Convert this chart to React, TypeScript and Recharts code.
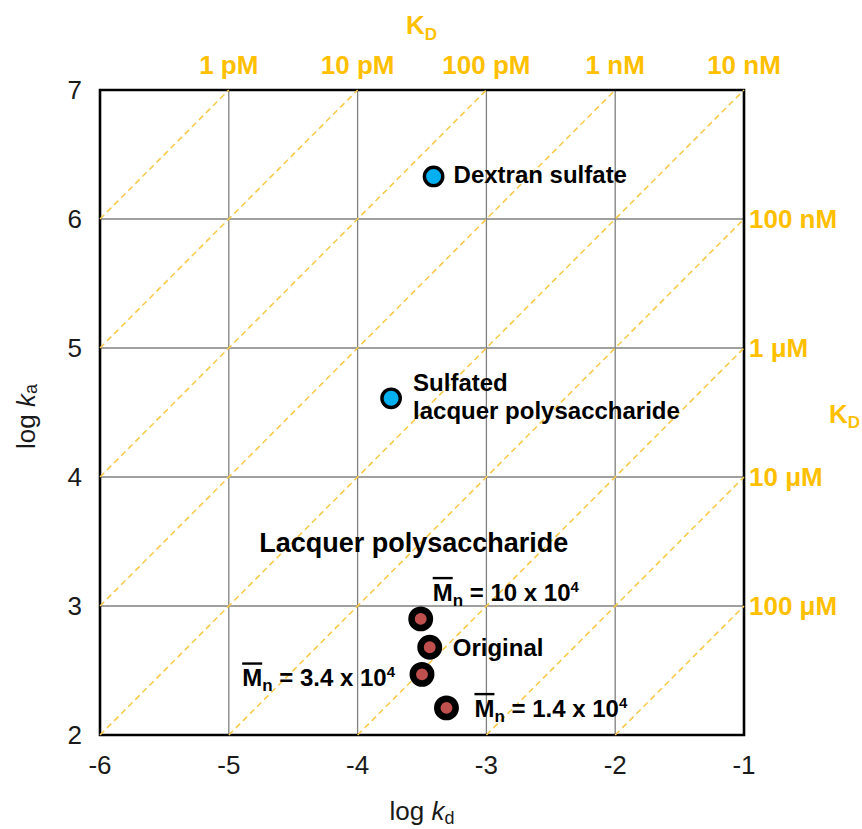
import React from 'react';
import {
  ScatterChart,
  Scatter,
  XAxis,
  YAxis,
  CartesianGrid,
  ReferenceLine,
  ReferenceArea,
  ReferenceDot,
  Label,
} from 'recharts';

const FONT = '"Liberation Sans", Arial, Helvetica, sans-serif';
const KD_COLOR = '#FFC000';
const ISO_COLOR = '#F7CB4D';
const TEXT_COLOR = '#1a1a1a';

// axis ticks (log10 of rate constants)
const logKdTicks = [-6, -5, -4, -3, -2, -1];
const logKaTicks = [2, 3, 4, 5, 6, 7];

// iso-affinity lines: log10(KD / M) = log kd - log ka
const isoKdLogs = [-12, -11, -10, -9, -8, -7, -6, -5, -4];

// KD scale along the top edge (placed at log kd) and the right edge (placed at log ka)
const kdTopAt = [-5, -4, -3, -2, -1];
const kdTopText = ['1 pM', '10 pM', '100 pM', '1 nM', '10 nM'];
const kdRightAt = [6, 5, 4, 3];
const kdRightText = ['100 nM', '1 \u03bcM', '10 \u03bcM', '100 \u03bcM'];

// sulfated polysaccharides
const sulfatedNames = ['Dextran sulfate', 'Sulfated\nlacquer polysaccharide'];
const sulfatedLogKd = [-3.41, -3.74];
const sulfatedLogKa = [6.33, 4.61];

// lacquer polysaccharide fractions (number-average molecular weight, x 10^4)
const lacquerGroupName = 'Lacquer polysaccharide';
const lacquerMn = ['10', null, '3.4', '1.4'];
const lacquerLogKd = [-3.51, -3.44, -3.5, -3.31];
const lacquerLogKa = [2.9, 2.68, 2.47, 2.21];

const sulfatedData = sulfatedNames.map((name, i) => ({
  x: sulfatedLogKd[i],
  y: sulfatedLogKa[i],
  name,
}));
const lacquerData = lacquerMn.map((mn, i) => ({
  x: lacquerLogKd[i],
  y: lacquerLogKa[i],
  mn,
  idx: i,
}));

// clip each iso-KD line to the plotting window
const xMin = logKdTicks[0];
const xMax = logKdTicks[logKdTicks.length - 1];
const yMin = logKaTicks[0];
const yMax = logKaTicks[logKaTicks.length - 1];
const isoSegments = isoKdLogs.map((c) => {
  const x0 = Math.max(xMin, yMin + c);
  const x1 = Math.min(xMax, yMax + c);
  return [
    { x: x0, y: x0 - c },
    { x: x1, y: x1 - c },
  ];
});

// label offsets (px) from each lacquer marker
const lacquerLabelPlacement = [
  { dx: 12, dy: -18, anchor: 'start' },
  { dx: 23, dy: 9, anchor: 'start' },
  { dx: -27, dy: 12, anchor: 'end' },
  { dx: 28, dy: 9, anchor: 'start' },
];

const MnLabel = ({ x, y, anchor, mn }: any) => (
  <text
    x={x}
    y={y}
    textAnchor={anchor}
    fontFamily={FONT}
    fontWeight="bold"
    fontSize={24}
    fill="#000"
  >
    <tspan style={{ textDecoration: 'overline' }}>M</tspan>
    <tspan fontSize={17} dy={5}>
      n
    </tspan>
    <tspan dy={-5}>{` = ${mn} x 10`}</tspan>
    <tspan fontSize={15} dy={-9}>
      4
    </tspan>
  </text>
);

const SulfatedDot = (props: any) => {
  const { cx, cy, payload } = props;
  const lines: string[] = String(payload.name).split('\n');
  return (
    <g>
      <circle cx={cx} cy={cy} r={9.2} fill="#00B0F0" stroke="#000" strokeWidth={3.4} />
      {lines.length === 1 ? (
        <text
          x={cx + 20}
          y={cy + 7}
          fontFamily={FONT}
          fontWeight="bold"
          fontSize={24}
          fill="#000"
        >
          {lines[0]}
        </text>
      ) : (
        <text fontFamily={FONT} fontWeight="bold" fontSize={24} fill="#000">
          {lines.map((ln, i) => (
            <tspan key={i} x={cx + 22} y={cy - 7 + i * 28}>
              {ln}
            </tspan>
          ))}
        </text>
      )}
    </g>
  );
};

const LacquerDot = (props: any) => {
  const { cx, cy, payload } = props;
  const i = payload.idx;
  const p = lacquerLabelPlacement[i];
  return (
    <g>
      <circle cx={cx} cy={cy} r={9.2} fill="#C0504D" stroke="#000" strokeWidth={6.5} />
      {i === 0 && (
        <text
          x={cx - 7}
          y={cy - 67}
          textAnchor="middle"
          fontFamily={FONT}
          fontWeight="bold"
          fontSize={27}
          fill="#000"
        >
          {lacquerGroupName}
        </text>
      )}
      {payload.mn == null ? (
        <text
          x={cx + p.dx}
          y={cy + p.dy}
          textAnchor={p.anchor}
          fontFamily={FONT}
          fontWeight="bold"
          fontSize={24}
          fill="#000"
        >
          Original
        </text>
      ) : (
        <MnLabel x={cx + p.dx} y={cy + p.dy} anchor={p.anchor} mn={payload.mn} />
      )}
    </g>
  );
};

// KD scale text: above the top edge, or to the right of the right edge
const KdScaleLabel = (props: any) => {
  const { viewBox, text, side } = props;
  const x = viewBox?.x ?? 0;
  const y = viewBox?.y ?? 0;
  const top = side === 'top';
  return (
    <text
      x={top ? x : x + 5}
      y={top ? y - 16 : y + 9}
      textAnchor={top ? 'middle' : 'start'}
      fontFamily={FONT}
      fontWeight="bold"
      fontSize={26}
      fill={KD_COLOR}
    >
      {text}
    </text>
  );
};

const KdTitleTop = (props: any) => {
  const vb = props.viewBox || { x: 100, y: 0, width: 644, height: 90 };
  return (
    <text
      x={vb.x + 306}
      y={vb.y + 34}
      fontFamily={FONT}
      fontWeight="bold"
      fontSize={26}
      fill={KD_COLOR}
    >
      K
      <tspan fontSize={17} dy={6}>
        D
      </tspan>
    </text>
  );
};

const KdTitleRight = (props: any) => {
  const vb = props.viewBox || { x: 744, y: 90, width: 118, height: 645 };
  return (
    <text
      x={vb.x + 85}
      y={vb.y + vb.height / 2 + 10}
      fontFamily={FONT}
      fontWeight="bold"
      fontSize={26}
      fill={KD_COLOR}
    >
      K
      <tspan fontSize={17} dy={5}>
        D
      </tspan>
    </text>
  );
};

const XTitle = (props: any) => {
  const vb = props.viewBox || { x: 100, y: 735, width: 644, height: 94 };
  return (
    <text
      x={vb.x + vb.width / 2}
      y={vb.y + 85}
      textAnchor="middle"
      fontFamily={FONT}
      fontSize={26}
      fill={TEXT_COLOR}
    >
      log <tspan fontStyle="italic">k</tspan>
      <tspan fontSize={18} dy={4}>
        d
      </tspan>
    </text>
  );
};

const YTitle = (props: any) => {
  const vb = props.viewBox || { x: 0, y: 90, width: 100, height: 645 };
  const cx = vb.x + 35;
  const cy = vb.y + vb.height / 2 + 4;
  return (
    <text
      x={cx}
      y={cy}
      textAnchor="middle"
      transform={`rotate(-90 ${cx} ${cy})`}
      fontFamily={FONT}
      fontSize={26}
      fill={TEXT_COLOR}
    >
      log <tspan fontStyle="italic">k</tspan>
      <tspan fontSize={18} dy={2}>
        a
      </tspan>
    </text>
  );
};

export default function App() {
  return (
    <div style={{ position: 'absolute', left: 0, top: 0, width: 862, height: 829, background: '#fff' }}>
      <ScatterChart width={862} height={829} margin={{ top: 0, right: 0, bottom: 0, left: 0 }}>
        <CartesianGrid stroke="#808080" strokeWidth={1.3} />
        <XAxis
          type="number"
          dataKey="x"
          domain={[xMin, xMax]}
          ticks={logKdTicks}
          interval={0}
          height={94}
          axisLine={false}
          tickLine={false}
          tickSize={0}
          tickMargin={21}
          tick={{ fill: TEXT_COLOR, fontSize: 26, fontFamily: FONT }}
        >
          <Label content={<XTitle />} />
        </XAxis>
        <XAxis
          xAxisId="kdTop"
          orientation="top"
          type="number"
          domain={[xMin, xMax]}
          height={90}
          axisLine={false}
          tickLine={false}
          tick={false}
        >
          <Label content={<KdTitleTop />} />
        </XAxis>
        <YAxis
          type="number"
          dataKey="y"
          domain={[yMin, yMax]}
          ticks={logKaTicks}
          interval={0}
          width={100}
          axisLine={false}
          tickLine={false}
          tickSize={0}
          tickMargin={18}
          tick={{ fill: TEXT_COLOR, fontSize: 26, fontFamily: FONT }}
        >
          <Label content={<YTitle />} />
        </YAxis>
        <YAxis
          yAxisId="kdRight"
          orientation="right"
          type="number"
          domain={[yMin, yMax]}
          width={118}
          axisLine={false}
          tickLine={false}
          tick={false}
        >
          <Label content={<KdTitleRight />} />
        </YAxis>

        {isoSegments.map((seg, i) => (
          <ReferenceLine
            key={`iso-${i}`}
            segment={seg}
            stroke={ISO_COLOR}
            strokeWidth={1.6}
            strokeDasharray="6 4"
          />
        ))}

        <ReferenceArea
          x1={xMin}
          x2={xMax}
          y1={yMin}
          y2={yMax}
          fill="none"
          fillOpacity={0}
          stroke="#000"
          strokeWidth={2.6}
        />

        {kdTopAt.map((v, i) => (
          <ReferenceDot
            key={`kdt-${i}`}
            x={v}
            y={yMax}
            r={0}
            fill="none"
            stroke="none"
            ifOverflow="visible"
            label={<KdScaleLabel text={kdTopText[i]} side="top" />}
          />
        ))}
        {kdRightAt.map((v, i) => (
          <ReferenceDot
            key={`kdr-${i}`}
            x={xMax}
            y={v}
            r={0}
            fill="none"
            stroke="none"
            ifOverflow="visible"
            label={<KdScaleLabel text={kdRightText[i]} side="right" />}
          />
        ))}

        <Scatter
          data={sulfatedData}
          shape={<SulfatedDot />}
          isAnimationActive={false}
        />
        <Scatter
          data={lacquerData}
          shape={<LacquerDot />}
          isAnimationActive={false}
        />
      </ScatterChart>
    </div>
  );
}
